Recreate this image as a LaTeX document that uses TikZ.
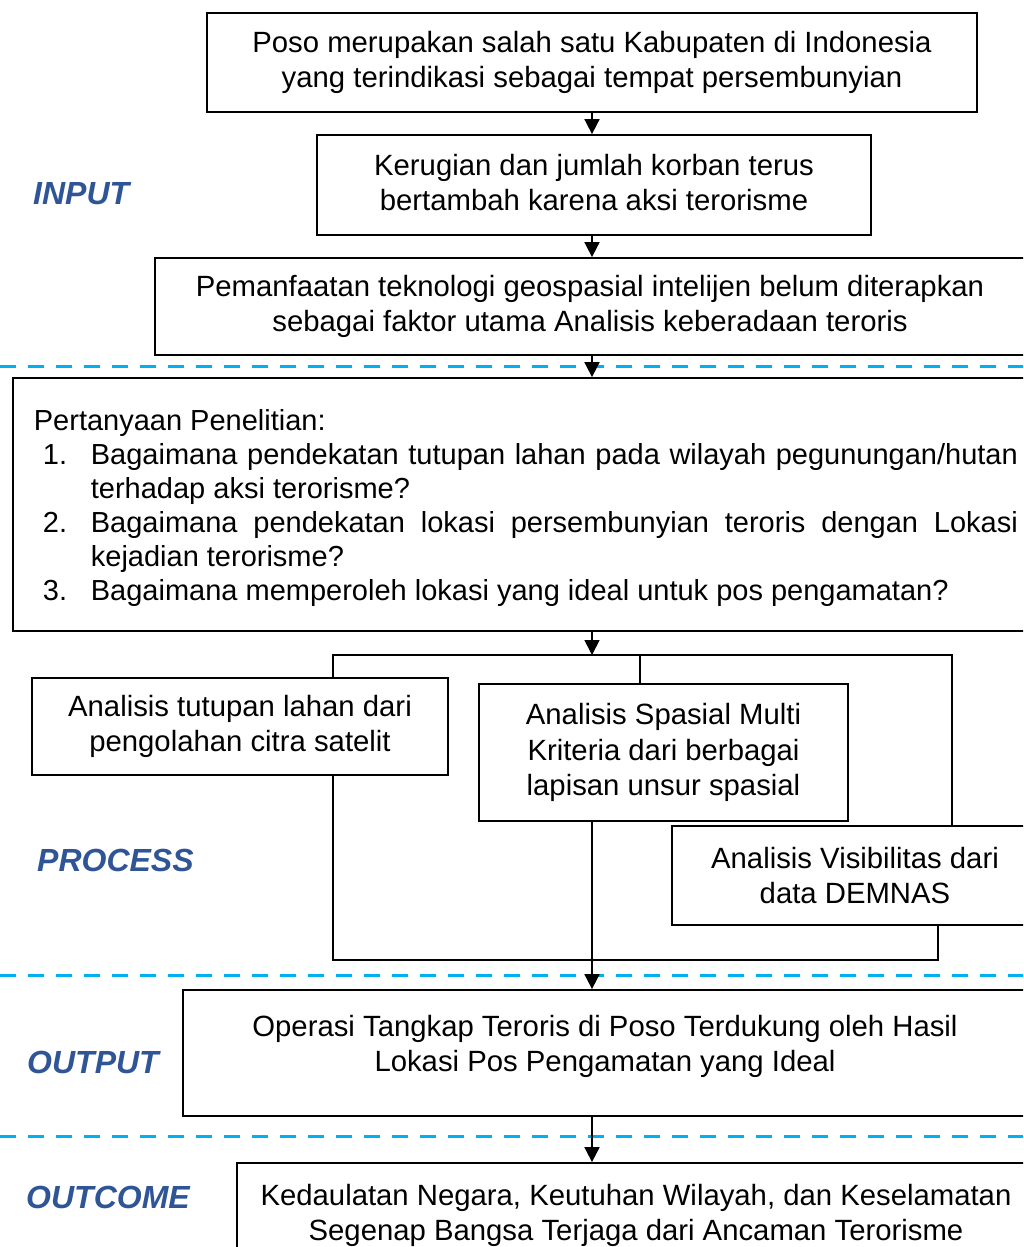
\documentclass[tikz,border=0pt]{standalone}
\usepackage{fontspec}
\setmainfont{Liberation Sans}
\usetikzlibrary{arrows.meta}
\definecolor{sepblue}{HTML}{00B0F0}
\definecolor{lblblue}{HTML}{2F5597}
\newcommand{\qitem}[2]{\par\hangindent=57pt\hangafter=1\noindent\makebox[57pt][l]{\hspace{9pt}#1}#2}

\begin{document}
\begin{tikzpicture}[x=1pt,y=-1pt,
	box/.style={draw,line width=1.8pt,align=center,inner sep=0pt,font=\fontsize{29.3}{35.5}\selectfont},
	wire/.style={line width=1.8pt},
	arr/.style={line width=1.8pt,-{Triangle[width=15pt,length=15pt]}},
	sep/.style={draw=sepblue,line width=3pt,dash pattern=on 16pt off 12pt},
	lbl/.style={text=lblblue,inner sep=0pt,anchor=west,font=\fontsize{32}{38}\selectfont\bfseries\itshape}]
	\path[use as bounding box,clip] (0,0) rectangle (1023,1247);
	% input
	\node[box,minimum width=770,minimum height=99] (b1) at (592,62.5) {Poso merupakan salah satu Kabupaten di Indonesia\\yang terindikasi sebagai tempat persembunyian};
	\node[box,minimum width=554,minimum height=100,text height=57pt,text depth=6pt] (b2) at (594,185) {Kerugian dan jumlah korban terus\\bertambah karena aksi terorisme};
	\node[box,minimum width=870,minimum height=97] (b3) at (590,306.5) {Pemanfaatan teknologi geospasial intelijen belum diterapkan\\sebagai faktor utama Analisis keberadaan teroris};
	% research questions
	\node[box,anchor=west,align=justify,text width=984pt,inner xsep=21pt,minimum height=253,font=\fontsize{29}{34}\selectfont] (b4) at (12,504.5) {\rule{0pt}{29pt}Pertanyaan Penelitian:
		\qitem{1.}{Bagaimana pendekatan tutupan lahan pada wilayah pegunungan/hutan\linebreak terhadap aksi terorisme?}
		\qitem{2.}{Bagaimana pendekatan lokasi persembunyian teroris dengan Lokasi\linebreak kejadian terorisme?}
		\qitem{3.}{Bagaimana memperoleh lokasi yang ideal untuk pos pengamatan?}\par};
	% process
	\node[box,minimum width=416,minimum height=97] (b5) at (240,726.5) {Analisis tutupan lahan dari\\pengolahan citra satelit};
	\node[box,minimum width=369,minimum height=137] (b6) at (663.5,752.5) {Analisis Spasial Multi\\Kriteria dari berbagai\\lapisan unsur spasial};
	\node[box,minimum width=366,minimum height=99] (b7) at (855,875.5) {Analisis Visibilitas dari\\data DEMNAS};
	% output and outcome
	\node[box,minimum width=844,minimum height=126,text height=56.5pt,text depth=19pt] (b8) at (605,1053) {Operasi Tangkap Teroris di Poso Terdukung oleh Hasil\\Lokasi Pos Pengamatan yang Ideal};
	\node[box,minimum width=798,minimum height=105] (b9) at (636,1215.5) {Kedaulatan Negara, Keutuhan Wilayah, dan Keselamatan\\Segenap Bangsa Terjaga dari Ancaman Terorisme};
	% labels
	\node[lbl] (lin) at (33,194) {INPUT};
	\node[lbl] (lproc) at (37,860) {PROCESS};
	\node[lbl] (lout) at (27,1062) {OUTPUT};
	\node[lbl] (lcome) at (26,1197) {OUTCOME};
	% separators
	\draw[sep] (0,366) -- (1023,366);
	\draw[sep] (0,975) -- (1023,975);
	\draw[sep] (0,1136) -- (1023,1136);
	% connectors
	\coordinate (axis) at (592,0);
	\coordinate (split) at (592,655);
	\coordinate (tl) at (333,655);
	\coordinate (tm) at (640,655);
	\coordinate (tr) at (952,655);
	\coordinate (bl) at (333,960);
	\coordinate (br) at (938,960);
	\draw[arr] (b1.south -| axis) -- (b2.north -| axis);
	\draw[arr] (b2.south -| axis) -- (b3.north -| axis);
	\draw[arr] (b3.south -| axis) -- (b4.north -| axis);
	\draw[arr] (b4.south -| axis) -- (split);
	\draw[wire] (b5.north -| tl) -- (tl) -- (tr) -- (b7.north -| tr);
	\draw[wire] (tm) -- (b6.north -| tm);
	\draw[wire] (b5.south -| bl) -- (bl) -- (br) -- (b7.south -| br);
	\draw[arr] (b6.south -| axis) -- (b8.north -| axis);
	\draw[arr] (b8.south -| axis) -- (b9.north -| axis);
\end{tikzpicture}
\end{document}
